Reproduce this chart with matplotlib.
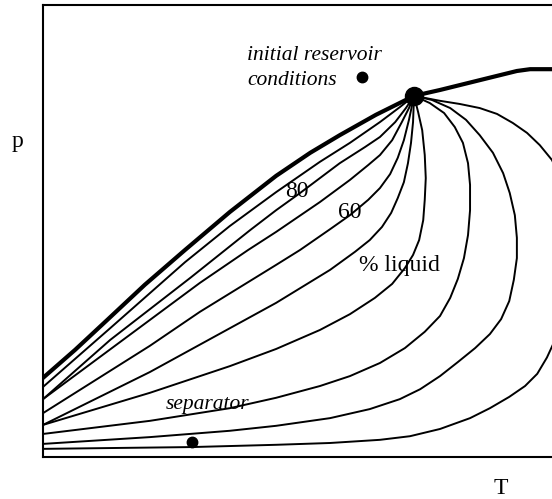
"""Phase envelope with quality lines (p-T sketch)."""

import matplotlib

matplotlib.use("Agg")
import matplotlib.pyplot as plt

# bubble-point (100 % liquid) and dew-point (0 % liquid) curves
bubble_T = [0, 6.3, 12.6, 20.0, 27.9, 36.7, 45.8, 52.5, 58.3, 65.4, 72.9]
bubble_p = [17.5, 23.7, 30.3, 38.1, 45.8, 54.2, 62.2, 67.3, 71.2, 75.7, 79.9]
dew_T = [72.9, 78.0, 85.9, 93.1, 95.7, 100.0, 102.0]
dew_p = [79.9, 81.2, 83.4, 85.4, 85.8, 85.8, 85.8]

# quality lines, all meeting at the critical point
quality_T = [
    [0, 13.2, 27.9, 36.7, 45.8, 54.4, 60.3, 66.2, 70.1, 72.9],
    [0, 13.2, 28.9, 40.7, 45.8, 50.5, 58.3, 63.3, 66.2, 69.2, 71.3, 72.9],
    [0, 15.7, 30.8, 40.3, 45.8, 54.4, 60.3, 63.9, 66.2, 68.6, 70.5, 71.9, 72.9],
    [0, 21.0, 30.8, 45.8, 50.5, 56.4, 60.3, 63.9, 66.2, 68.2, 69.7, 70.9, 71.9, 72.9],
    [0, 21.0, 45.8, 56.4, 61.3, 64.2, 66.6, 68.4, 69.7, 70.9, 71.7, 72.3, 72.7, 72.9],
    [0, 21.0, 36.7, 45.8, 54.4, 60.3, 65.2, 68.6, 71.1, 72.7, 73.9, 74.7, 75.0, 75.2,
     75.0, 74.5, 73.7, 72.9],
    [0, 21.0, 36.7, 45.8, 54.4, 60.3, 66.2, 71.1, 75.0, 78.0, 80.0, 81.5, 82.7, 83.5,
     83.9, 83.9, 83.5, 82.5, 80.9, 78.8, 76.0, 72.9],
    [0, 21.0, 36.7, 45.8, 56.4, 64.2, 70.1, 74.1, 78.0, 81.5, 84.9, 87.8, 90.0, 91.6,
     92.5, 93.1, 93.1, 92.7, 91.7, 90.4, 88.4, 85.8, 83.1, 80.0, 76.4, 72.9],
    [0, 29.3, 45.8, 56.4, 66.2, 72.1, 78.0, 83.9, 87.8, 91.6, 94.7, 97.1, 99.0, 100.6,
     102.6, 103.9, 103.1, 101.6, 100.0, 97.6, 95.1, 92.3, 89.2, 85.8, 81.9, 78.0, 72.9],
]
quality_p = [
    [15.5, 28.5, 43.1, 51.1, 58.6, 65.3, 69.5, 74.1, 77.4, 79.9],
    [12.8, 25.9, 39.6, 50.2, 54.6, 58.4, 65.0, 68.6, 70.8, 74.1, 77.2, 79.9],
    [12.8, 25.9, 38.5, 45.8, 49.8, 56.4, 61.3, 64.6, 66.8, 70.1, 74.1, 77.2, 79.9],
    [9.7, 24.6, 32.1, 42.5, 45.8, 50.4, 53.5, 56.9, 59.5, 62.6, 66.2, 70.1, 74.6, 79.9],
    [7.1, 18.8, 34.1, 41.4, 45.4, 48.0, 50.9, 54.0, 57.3, 60.8, 65.0, 69.5, 74.1, 79.9],
    [7.1, 14.2, 20.1, 23.9, 28.1, 31.6, 35.2, 38.3, 41.8, 44.7, 48.0, 52.4, 56.9, 61.7,
     66.8, 72.3, 76.3, 79.9],
    [5.1, 8.0, 10.8, 13.1, 15.7, 17.9, 20.8, 24.1, 27.7, 31.2, 35.2, 39.4, 44.0, 49.1,
     54.6, 60.2, 65.0, 69.5, 73.0, 76.1, 78.3, 79.9],
    [2.9, 4.4, 5.8, 6.9, 8.6, 10.6, 12.8, 15.0, 17.9, 21.0, 24.1, 27.2, 30.5, 34.5,
     39.2, 44.0, 48.5, 53.5, 58.4, 62.8, 67.3, 71.2, 74.6, 77.2, 79.0, 79.9],
    [1.8, 2.2, 2.7, 3.1, 3.8, 4.6, 6.2, 8.6, 10.8, 13.3, 15.7, 18.4, 22.0, 25.9,
     33.6, 44.7, 55.8, 61.7, 65.7, 69.0, 71.7, 73.9, 75.9, 77.2, 78.1, 78.8, 79.9],
]

critical = (72.9, 79.9)
reservoir = (62.7, 84.1)
separator = (29.3, 3.3)

plt.rcParams["font.family"] = ["Liberation Serif", "DejaVu Serif"]

fig = plt.figure(figsize=(5.52, 4.99), dpi=100)
ax = fig.add_axes([43 / 552, 42 / 499, 509 / 552, 452 / 499])

for qt, qp in zip(quality_T, quality_p):
    ax.plot(qt, qp, color="black", linewidth=1.4, solid_joinstyle="round")
ax.plot(bubble_T, bubble_p, color="black", linewidth=3.0, solid_joinstyle="round")
ax.plot(dew_T, dew_p, color="black", linewidth=3.0, solid_joinstyle="round")

ax.plot(*critical, "o", color="black", markersize=13)
ax.plot(*reservoir, "o", color="black", markersize=7.5)
ax.plot(*separator, "o", color="black", markersize=7.5)

ax.text(40.1, 88.9, "initial reservoir", style="italic", fontsize=15.5,
        ha="left", va="center")
ax.text(40.1, 83.4, "conditions", style="italic", fontsize=15.5,
        ha="left", va="center")
ax.text(32.4, 11.7, "separator", style="italic", fontsize=15.5, ha="center", va="center")
ax.text(49.9, 58.8, "80", fontsize=17, ha="center", va="center")
ax.text(60.3, 54.2, "60", fontsize=17, ha="center", va="center")
ax.text(70.1, 42.3, "% liquid", fontsize=17, ha="center", va="center")

ax.set_xlim(0, 100)
ax.set_ylim(0, 100)
ax.set_xticks([])
ax.set_yticks([])
ax.spines["right"].set_visible(False)
for side in ("left", "top", "bottom"):
    ax.spines[side].set_linewidth(1.5)

fig.text(18 / 552, 1 - 141 / 499, "p", fontsize=17, ha="center", va="center")
fig.text(501 / 552, 1 - 488 / 499, "T", fontsize=17, ha="center", va="center")

fig.savefig("out.png", dpi=100)
